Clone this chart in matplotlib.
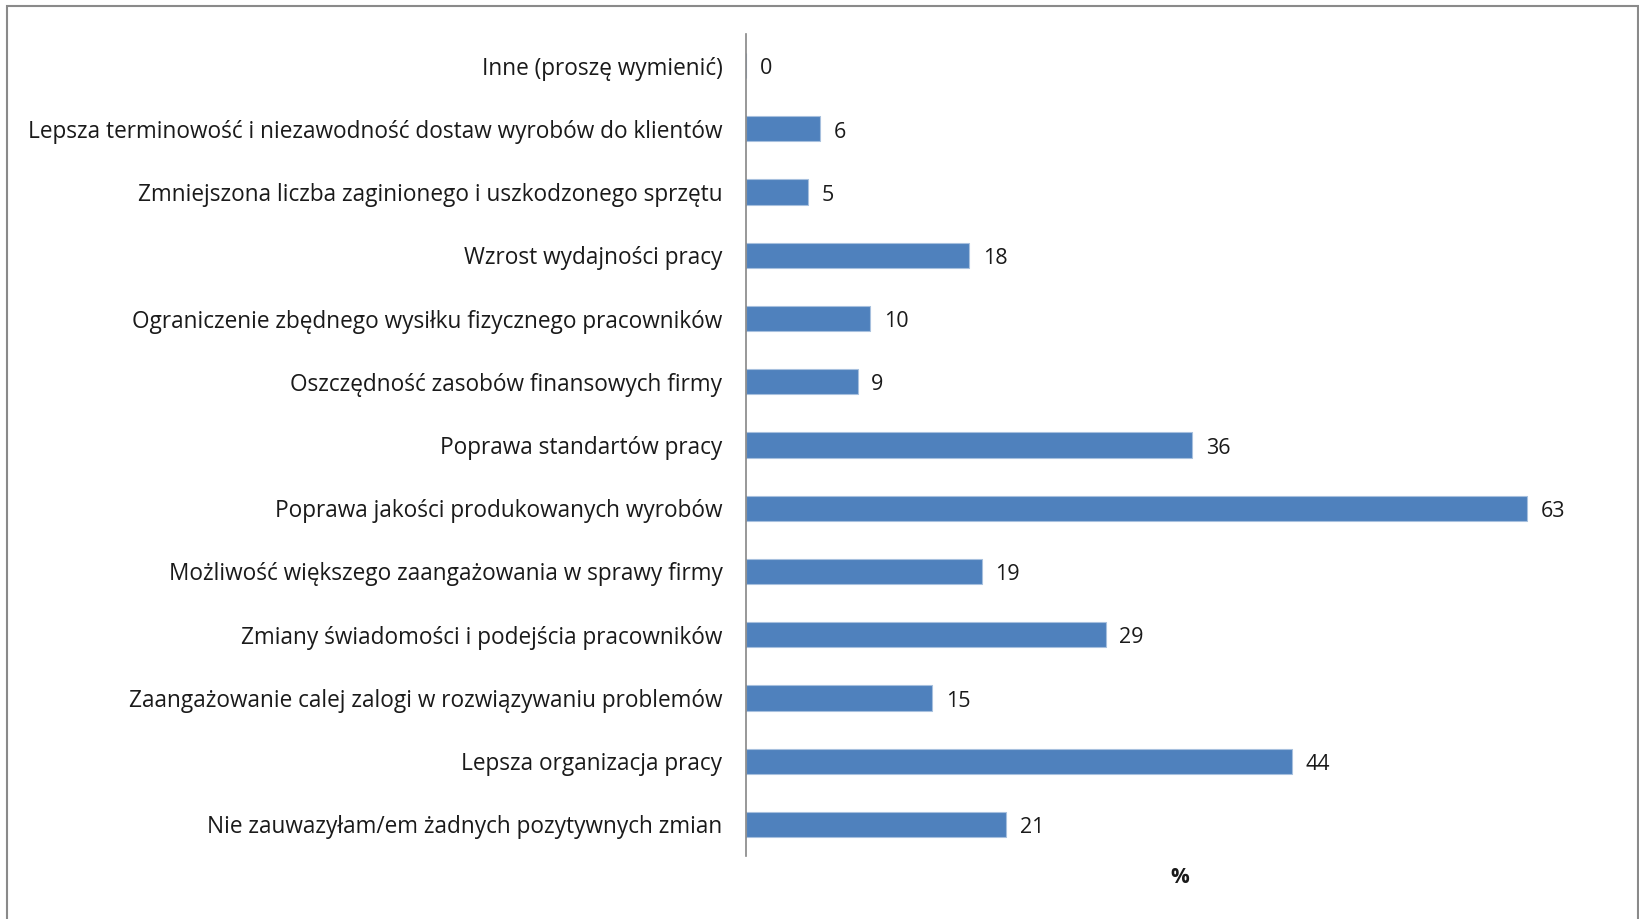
import matplotlib
matplotlib.use('Agg')
import matplotlib.pyplot as plt
from matplotlib.patches import Rectangle

plt.rcParams['font.family'] = ['Open Sans', 'DejaVu Sans']

# bottom to top
categories = [
    'Nie zauwazyłam/em żadnych pozytywnych zmian',
    'Lepsza organizacja pracy',
    'Zaangażowanie calej zalogi w rozwiązywaniu problemów',
    'Zmiany świadomości i podejścia pracowników',
    'Możliwość większego zaangażowania w sprawy firmy',
    'Poprawa jakości produkowanych wyrobów',
    'Poprawa standartów pracy',
    'Oszczędność zasobów finansowych firmy',
    'Ograniczenie zbędnego wysiłku fizycznego pracowników',
    'Wzrost wydajności pracy',
    'Zmniejszona liczba zaginionego i uszkodzonego sprzętu',
    'Lepsza terminowość i niezawodność dostaw wyrobów do klientów',
    'Inne (proszę wymienić)',
]
values = [21, 44, 15, 29, 19, 63, 36, 9, 10, 18, 5, 6, 0]

BAR = '#4F81BD'
TEXT = '#1a1a1a'

fig = plt.figure(figsize=(16.4, 9.19), dpi=100)
ax = fig.add_axes([746 / 1640, 1 - 856 / 919, 868 / 1640, 822 / 919])

y = list(range(len(categories)))
ax.barh(y, values, height=0.4, color=BAR, edgecolor='#a7c0de', linewidth=0.8)
for yi, v in zip(y, values):
    ax.text(v + 1.1, yi - 0.05, str(v), va='center', ha='left', fontsize=15.5, color=TEXT)

ax.set_xlim(0, 70)
ax.set_ylim(-0.5, len(categories) - 0.5)
ax.set_yticks(y)
ax.set_yticklabels(categories, fontsize=16.3, color=TEXT)
ax.tick_params(axis='y', length=0, pad=17)
ax.set_xticks([])
for side in ['top', 'right', 'bottom']:
    ax.spines[side].set_visible(False)
ax.spines['left'].set_color('#868686')
ax.spines['left'].set_linewidth(1.2)
ax.set_xlabel('%', fontsize=15, fontweight='bold', color=TEXT, labelpad=8)

# outer chart border
fig.patches.append(Rectangle((7 / 1640, -0.02), 1631 / 1640, 1.02 - 6 / 919,
                             transform=fig.transFigure, fill=False,
                             edgecolor='#8a8a8a', linewidth=1.5))

fig.savefig('out.png', dpi=100)
